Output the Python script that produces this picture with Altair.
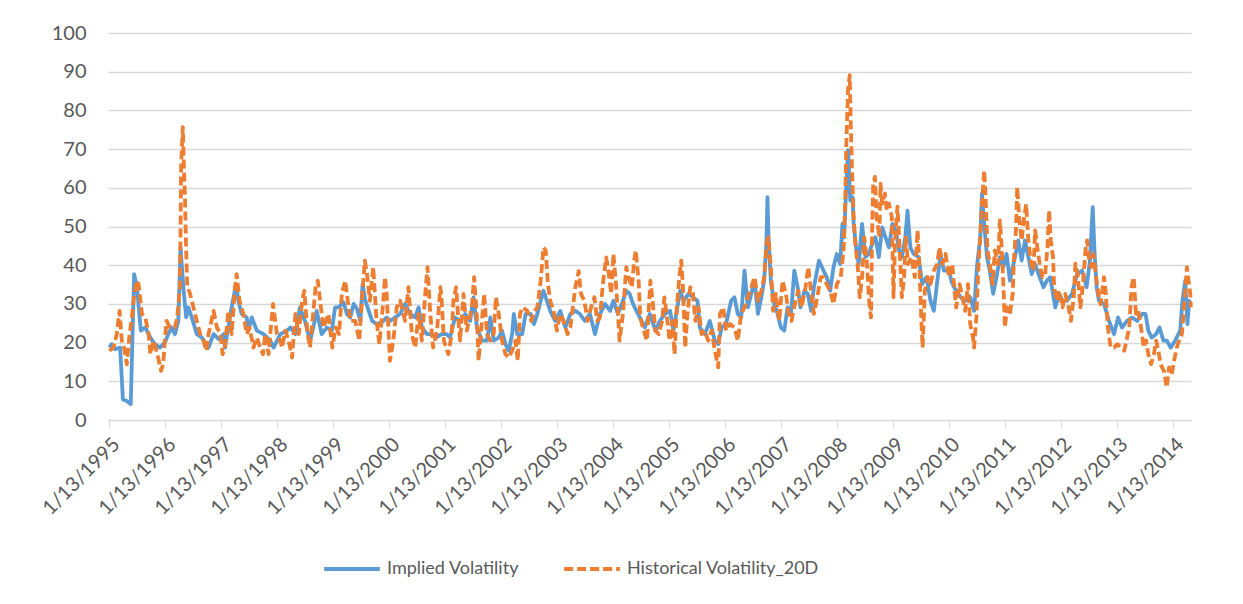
import altair as alt
import pandas as pd

# Decimal-year positions and values
IV_YEAR = [1995.04, 1995.08, 1995.14, 1995.23, 1995.28, 1995.35, 1995.42, 1995.48, 1995.53, 1995.60, 1995.68, 1995.77, 1995.85, 1995.94,
           1996.03, 1996.09, 1996.15, 1996.21, 1996.27, 1996.31, 1996.36, 1996.41, 1996.45, 1996.51, 1996.60, 1996.69, 1996.81, 1996.90, 1996.99,
           1997.08, 1997.10, 1997.16, 1997.22, 1997.30, 1997.34, 1997.40, 1997.49, 1997.52, 1997.58, 1997.67, 1997.79, 1997.91, 1997.97, 1998.09,
           1998.21, 1998.27, 1998.36, 1998.44, 1998.53, 1998.62, 1998.68, 1998.74, 1998.83, 1998.92, 1999.01, 1999.07, 1999.13, 1999.22,
           1999.28, 1999.34, 1999.40, 1999.46, 1999.52, 1999.56, 1999.61, 1999.67, 1999.73, 1999.81, 1999.90, 1999.99, 2000.05, 2000.14,
           2000.23, 2000.32, 2000.41, 2000.50, 2000.56, 2000.62, 2000.71, 2000.80, 2000.88, 2000.97, 2001.06, 2001.12, 2001.21,
           2001.30, 2001.39, 2001.48, 2001.54, 2001.60, 2001.69, 2001.78, 2001.84, 2001.90, 2001.99, 2002.05, 2002.11, 2002.17, 2002.23,
           2002.26, 2002.32, 2002.41, 2002.47, 2002.56, 2002.62, 2002.68, 2002.74, 2002.79, 2002.85, 2002.91, 2003.00, 2003.09, 2003.18,
           2003.27, 2003.36, 2003.44, 2003.53, 2003.62, 2003.71, 2003.80, 2003.89, 2003.98, 2004.04, 2004.12, 2004.21, 2004.27, 2004.33,
           2004.39, 2004.48, 2004.60, 2004.69, 2004.79, 2004.87, 2004.96, 2005.05, 2005.11, 2005.17, 2005.23, 2005.29, 2005.38, 2005.46,
           2005.54, 2005.58, 2005.67, 2005.76, 2005.85, 2005.91, 2005.97, 2006.05, 2006.14, 2006.20, 2006.26, 2006.32, 2006.38, 2006.44,
           2006.50, 2006.56, 2006.62, 2006.68, 2006.73, 2006.77, 2006.79, 2006.81, 2006.85, 2006.91, 2006.97, 2007.03, 2007.09, 2007.15,
           2007.21, 2007.27, 2007.33, 2007.38, 2007.45, 2007.51, 2007.57, 2007.62, 2007.71, 2007.79, 2007.85, 2007.91, 2007.97, 2008.03,
           2008.09, 2008.13, 2008.16, 2008.20, 2008.23, 2008.27, 2008.31, 2008.33, 2008.38, 2008.42, 2008.48, 2008.54, 2008.60, 2008.66,
           2008.72, 2008.78, 2008.84, 2008.90, 2008.96, 2009.02, 2009.08, 2009.14, 2009.19, 2009.25, 2009.29, 2009.34, 2009.40, 2009.49,
           2009.55, 2009.63, 2009.70, 2009.76, 2009.83, 2009.88, 2009.94, 2010.03, 2010.09, 2010.16, 2010.24, 2010.32, 2010.41, 2010.48,
           2010.53, 2010.59, 2010.62, 2010.66, 2010.71, 2010.76, 2010.82, 2010.88, 2010.94, 2011.00, 2011.06, 2011.12, 2011.21, 2011.27,
           2011.33, 2011.39, 2011.45, 2011.51, 2011.57, 2011.63, 2011.72, 2011.78, 2011.84, 2011.93, 2012.00, 2012.06, 2012.14, 2012.23,
           2012.32, 2012.41, 2012.49, 2012.55, 2012.58, 2012.60, 2012.63, 2012.67, 2012.71, 2012.80, 2012.89, 2012.98, 2013.05, 2013.12,
           2013.21, 2013.30, 2013.39, 2013.48, 2013.54, 2013.59, 2013.65, 2013.73, 2013.79, 2013.86, 2013.92, 2013.99, 2014.07, 2014.16,
           2014.20, 2014.25, 2014.29, 2014.32, 2014.35]
IV_VALUE = [18.7, 19.6, 18.3, 18.7, 5.3, 4.9, 4.1, 37.7, 34.3, 23.1, 23.9, 21.3, 19.6, 18.7,
            20.0, 22.2, 23.9, 22.2, 25.6, 44.6, 34.3, 26.5, 29.1, 26.5, 22.2, 21.3, 18.7, 22.2, 20.9,
            22.2, 18.7, 23.9, 29.1, 35.1, 30.8, 27.4, 26.5, 23.1, 26.5, 23.1, 22.2, 20.5, 18.7, 22.2,
            23.1, 23.9, 22.2, 29.1, 25.6, 20.5, 23.9, 28.2, 22.2, 23.9, 23.1, 29.1, 29.1, 30.4,
            27.4, 26.5, 30.0, 28.7, 25.6, 35.1, 30.8, 28.2, 25.6, 24.8, 25.2, 26.5, 25.6, 26.5,
            27.4, 30.0, 27.4, 26.5, 29.1, 23.9, 22.2, 22.2, 21.3, 22.2, 22.2, 21.3, 26.5,
            25.6, 27.4, 25.6, 31.7, 23.9, 20.5, 20.5, 26.5, 20.5, 21.3, 23.1, 19.6, 17.9, 22.2,
            27.4, 22.2, 22.2, 27.4, 27.4, 24.8, 27.4, 30.8, 33.4, 30.8, 28.2, 25.6, 28.2, 23.9,
            27.4, 28.2, 27.4, 25.6, 27.4, 22.2, 27.4, 30.0, 28.2, 30.8, 27.4, 30.8, 33.4, 32.6,
            30.0, 27.4, 23.9, 27.4, 23.1, 25.6, 27.4, 28.2, 23.1, 28.2, 33.4, 30.8, 32.6, 31.7,
            30.8, 23.9, 22.2, 25.6, 20.5, 19.6, 23.9, 24.8, 30.8, 31.7, 27.4, 26.5, 38.6, 29.1,
            32.6, 36.0, 27.4, 31.7, 36.0, 45.5, 57.6, 46.4, 36.0, 30.0, 27.4, 23.9, 23.1, 29.1,
            27.4, 38.6, 34.3, 29.1, 33.4, 32.6, 28.2, 34.3, 41.2, 38.6, 36.9, 33.4, 39.5, 42.9,
            40.3, 50.7, 47.2, 61.1, 69.7, 56.7, 57.6, 50.7, 43.8, 40.3, 50.7, 42.1, 42.9, 45.5,
            47.2, 42.1, 49.8, 47.2, 44.6, 50.7, 49.0, 43.8, 42.1, 47.2, 54.1, 44.6, 42.9, 42.1,
            35.1, 36.9, 30.8, 28.2, 36.9, 42.9, 38.6, 38.6, 35.1, 33.4, 31.7, 30.8, 31.7, 28.2,
            39.5, 47.2, 58.5, 50.7, 42.1, 38.6, 32.6, 36.9, 42.1, 39.5, 42.9, 36.0, 42.1, 46.4,
            41.2, 46.4, 42.1, 37.7, 40.3, 37.7, 34.3, 36.0, 36.9, 29.1, 32.6, 30.8, 30.8, 32.6,
            37.7, 38.6, 34.3, 41.2, 49.8, 55.0, 43.8, 34.3, 30.8, 30.0, 25.6, 22.2, 26.5, 23.9,
            25.6, 26.5, 25.6, 27.4, 27.4, 23.1, 21.3, 22.2, 23.9, 20.5, 20.5, 18.7, 20.5, 23.1,
            30.8, 36.0, 24.8, 30.8, 30.0]

HV_YEAR = [1995.04, 1995.11, 1995.17, 1995.22, 1995.26, 1995.30, 1995.35, 1995.40, 1995.44, 1995.47, 1995.52, 1995.56, 1995.62, 1995.68,
           1995.74, 1995.77, 1995.83, 1995.91, 1995.96, 1996.00, 1996.03, 1996.06, 1996.12, 1996.21, 1996.25, 1996.30, 1996.32, 1996.35,
           1996.37, 1996.39, 1996.41, 1996.43, 1996.48, 1996.54, 1996.60, 1996.66, 1996.72, 1996.77, 1996.81, 1996.90, 1996.96, 1997.02,
           1997.06, 1997.10, 1997.16, 1997.22, 1997.28, 1997.31, 1997.36, 1997.43, 1997.49, 1997.54, 1997.61, 1997.67, 1997.73, 1997.78,
           1997.82, 1997.88, 1997.92, 1997.96, 1998.03, 1998.09, 1998.12, 1998.18, 1998.24, 1998.30, 1998.36, 1998.42, 1998.48, 1998.52,
           1998.57, 1998.62, 1998.67, 1998.72, 1998.76, 1998.80, 1998.86, 1998.95, 1999.02, 1999.08, 1999.14, 1999.19, 1999.25, 1999.28,
           1999.34, 1999.43, 1999.50, 1999.54, 1999.60, 1999.64, 1999.69, 1999.75, 1999.81, 1999.86, 1999.92, 1999.96, 1999.99, 2000.05,
           2000.11, 2000.17, 2000.23, 2000.32, 2000.38, 2000.44, 2000.50, 2000.56, 2000.62, 2000.68, 2000.72, 2000.77, 2000.82, 2000.89,
           2000.95, 2000.97, 2001.01, 2001.09, 2001.15, 2001.18, 2001.23, 2001.27, 2001.30, 2001.36, 2001.42, 2001.51, 2001.55, 2001.60,
           2001.63, 2001.69, 2001.73, 2001.78, 2001.84, 2001.90, 2001.94, 2001.99, 2002.05, 2002.11, 2002.17, 2002.23, 2002.29, 2002.33,
           2002.37, 2002.42, 2002.50, 2002.57, 2002.63, 2002.68, 2002.74, 2002.79, 2002.83, 2002.87, 2002.91, 2002.97, 2003.03, 2003.09,
           2003.15, 2003.22, 2003.27, 2003.36, 2003.42, 2003.46, 2003.52, 2003.58, 2003.64, 2003.70, 2003.75, 2003.80, 2003.85, 2003.91,
           2003.95, 2004.00, 2004.04, 2004.09, 2004.15, 2004.21, 2004.27, 2004.31, 2004.37, 2004.41, 2004.44, 2004.49, 2004.52, 2004.58,
           2004.64, 2004.70, 2004.74, 2004.79, 2004.85, 2004.91, 2004.95, 2004.99, 2005.04, 2005.09, 2005.13, 2005.17, 2005.22, 2005.25,
           2005.28, 2005.32, 2005.36, 2005.41, 2005.46, 2005.50, 2005.56, 2005.61, 2005.67, 2005.73, 2005.79, 2005.85, 2005.91, 2005.94,
           2006.00, 2006.05, 2006.12, 2006.20, 2006.26, 2006.32, 2006.38, 2006.44, 2006.50, 2006.56, 2006.62, 2006.68, 2006.73, 2006.78,
           2006.81, 2006.85, 2006.89, 2006.94, 2007.00, 2007.06, 2007.12, 2007.17, 2007.22, 2007.28, 2007.34, 2007.40, 2007.47, 2007.52,
           2007.56, 2007.62, 2007.68, 2007.74, 2007.79, 2007.85, 2007.91, 2007.97, 2008.03, 2008.10, 2008.15, 2008.18, 2008.20, 2008.23,
           2008.26, 2008.28, 2008.30, 2008.33, 2008.36, 2008.40, 2008.44, 2008.48, 2008.52, 2008.56, 2008.61, 2008.64, 2008.66, 2008.68,
           2008.71, 2008.74, 2008.79, 2008.81, 2008.84, 2008.89, 2008.92, 2008.96, 2009.01, 2009.04, 2009.07, 2009.11, 2009.14, 2009.19,
           2009.23, 2009.26, 2009.30, 2009.36, 2009.42, 2009.47, 2009.50, 2009.54, 2009.56, 2009.60, 2009.65, 2009.70, 2009.76, 2009.82,
           2009.86, 2009.91, 2009.97, 2010.03, 2010.09, 2010.13, 2010.16, 2010.22, 2010.27, 2010.32, 2010.37, 2010.41, 2010.46, 2010.48,
           2010.52, 2010.56, 2010.59, 2010.62, 2010.66, 2010.68, 2010.72, 2010.76, 2010.81, 2010.85, 2010.91, 2010.94, 2010.97, 2011.01,
           2011.03, 2011.07, 2011.12, 2011.17, 2011.19, 2011.23, 2011.25, 2011.29, 2011.33, 2011.36, 2011.41, 2011.45, 2011.49, 2011.54,
           2011.57, 2011.61, 2011.66, 2011.70, 2011.75, 2011.79, 2011.82, 2011.85, 2011.89, 2011.91, 2011.96, 2012.00, 2012.06, 2012.11,
           2012.17, 2012.21, 2012.26, 2012.29, 2012.33, 2012.38, 2012.42, 2012.47, 2012.50, 2012.53, 2012.57, 2012.61, 2012.66, 2012.70,
           2012.74, 2012.80, 2012.83, 2012.87, 2012.92, 2012.98, 2013.04, 2013.10, 2013.16, 2013.20, 2013.25, 2013.29, 2013.33, 2013.37,
           2013.41, 2013.46, 2013.51, 2013.55, 2013.59, 2013.64, 2013.69, 2013.73, 2013.77, 2013.81, 2013.87, 2013.92, 2013.96, 2014.01,
           2014.05, 2014.10, 2014.14, 2014.19, 2014.22, 2014.25, 2014.28, 2014.31, 2014.34, 2014.35]
HV_VALUE = [17.9, 18.7, 22.2, 28.2, 20.5, 18.7, 14.4, 22.2, 26.5, 30.8, 36.0, 35.1, 27.4, 26.5,
            22.2, 17.0, 20.5, 16.1, 12.7, 14.4, 20.5, 25.6, 23.9, 23.9, 26.5, 34.3, 65.4, 75.7,
            65.4, 56.7, 43.8, 34.3, 32.6, 29.1, 25.6, 22.2, 20.5, 17.9, 22.2, 28.2, 23.9, 22.2,
            17.0, 18.7, 28.2, 22.2, 34.3, 37.7, 30.8, 27.4, 22.2, 23.9, 18.7, 21.3, 18.7, 17.0,
            22.2, 17.0, 23.9, 30.0, 22.2, 20.5, 18.7, 23.1, 20.5, 16.1, 27.4, 22.2, 30.8, 33.4,
            23.1, 18.7, 26.5, 34.3, 36.0, 30.8, 23.9, 27.4, 18.7, 23.9, 22.2, 32.6, 36.0, 32.6,
            25.6, 25.6, 20.5, 29.1, 41.2, 37.7, 30.8, 39.5, 25.6, 19.6, 29.1, 36.9, 32.6, 15.3,
            20.5, 29.1, 30.8, 25.6, 34.3, 22.2, 18.7, 27.4, 20.5, 32.6, 39.5, 27.4, 18.7, 23.1,
            34.3, 31.7, 20.5, 17.0, 22.2, 30.8, 34.3, 25.6, 20.5, 32.6, 23.1, 29.1, 36.9, 26.5,
            15.3, 25.6, 32.6, 22.2, 20.5, 22.2, 31.7, 27.4, 20.5, 17.0, 16.1, 17.9, 20.5, 15.3,
            27.4, 29.1, 28.2, 25.6, 28.2, 29.1, 36.0, 44.6, 43.8, 35.1, 30.8, 28.2, 23.1, 27.4,
            25.6, 22.2, 23.9, 34.3, 38.5, 32.6, 30.8, 25.6, 29.1, 31.7, 25.6, 26.5, 35.1, 42.0,
            38.5, 32.6, 42.9, 34.3, 20.5, 27.4, 39.5, 36.9, 34.3, 41.2, 43.8, 36.0, 26.5, 23.1,
            20.5, 36.0, 30.8, 23.1, 22.2, 25.6, 31.7, 27.4, 20.5, 25.6, 17.0, 29.1, 37.7, 41.2,
            34.3, 18.7, 27.4, 34.3, 32.6, 25.6, 29.1, 22.2, 23.1, 20.5, 23.1, 17.9, 13.6, 27.4,
            29.1, 23.1, 24.8, 23.9, 20.5, 27.4, 29.1, 31.7, 34.3, 36.9, 30.8, 33.4, 36.9, 46.4,
            47.2, 39.5, 28.2, 32.6, 25.6, 36.0, 32.6, 27.4, 25.6, 30.0, 33.4, 29.1, 34.3, 39.5,
            34.3, 27.4, 31.7, 36.9, 36.9, 35.1, 33.4, 30.0, 35.1, 36.9, 43.8, 56.7, 71.4, 85.2,
            89.1, 75.7, 65.4, 52.4, 45.5, 40.3, 31.7, 36.9, 47.2, 42.1, 30.0, 26.5, 49.0, 61.1,
            62.8, 52.4, 47.2, 61.1, 55.9, 58.5, 54.1, 55.9, 52.4, 31.7, 47.2, 55.1, 47.2, 31.7,
            36.9, 47.2, 40.3, 42.1, 36.9, 49.0, 40.3, 24.8, 18.7, 33.4, 36.9, 35.1, 38.6, 40.3,
            44.6, 40.3, 42.9, 36.9, 40.3, 33.4, 29.1, 35.1, 31.7, 28.2, 35.1, 24.8, 21.3, 18.7,
            26.5, 40.3, 47.2, 55.9, 64.5, 59.3, 43.8, 40.3, 35.1, 43.8, 40.3, 51.6, 45.5, 32.6,
            23.9, 29.1, 27.4, 32.6, 41.2, 49.8, 60.2, 51.6, 46.4, 50.7, 55.8, 46.4, 41.2, 38.5,
            49.0, 44.6, 39.5, 36.9, 37.7, 44.6, 54.2, 46.4, 42.1, 34.3, 30.8, 33.4, 29.1, 32.6,
            29.1, 25.6, 31.7, 40.4, 37.7, 29.1, 34.3, 43.8, 46.4, 42.1, 39.5, 42.9, 36.9, 32.6,
            29.9, 36.9, 33.4, 23.9, 18.7, 18.7, 19.6, 18.7, 17.9, 20.5, 23.9, 34.3, 36.9, 27.4,
            28.2, 23.9, 18.7, 20.5, 17.0, 14.4, 17.0, 20.5, 17.9, 14.4, 12.6, 8.4, 13.6, 11.8,
            15.3, 18.7, 20.5, 22.2, 27.4, 33.4, 39.5, 36.0, 32.6, 29.1]

SERIES = ["Implied Volatility", "Historical Volatility_20D"]
TICK_YEARS = list(range(1995, 2015))
Y_TICKS = list(range(0, 101, 10))


def to_date(y):
    base = pd.Timestamp(year=int(y), month=1, day=1)
    return base + pd.Timedelta(days=(y - int(y)) * 365.25)


rows = []
for yr, v in zip(IV_YEAR, IV_VALUE):
    rows.append({"date": to_date(yr), "value": v, "series": SERIES[0]})
for yr, v in zip(HV_YEAR, HV_VALUE):
    rows.append({"date": to_date(yr), "value": v, "series": SERIES[1]})
df = pd.DataFrame(rows)

FONT = "Lato"
TEXT = "#595959"
GRID = "#D9D9D9"

legend = alt.Legend(
    title=None, orient="none", legendX=214, legendY=506, direction="horizontal",
    symbolType="stroke", symbolSize=3100, symbolStrokeWidth=3.8,
    labelFont=FONT, labelFontSize=18, labelColor=TEXT, labelOffset=5,
    columnPadding=36, labelLimit=400,
)

chart = alt.Chart(df).mark_line(strokeWidth=3.8, strokeJoin="round").encode(
    x=alt.X(
        "date:T",
        scale=alt.Scale(domain=[alt.DateTime(year=1995, month=1, date=6),
                                alt.DateTime(year=2014, month=5, date=10)]),
        axis=alt.Axis(
            values=[alt.DateTime(year=y, month=1, date=13) for y in TICK_YEARS],
            format="%-m/%-d/%Y", labelAngle=315, grid=False,
            domainColor=GRID, domainWidth=1, tickColor=GRID, tickSize=7,
            labelFont=FONT, labelFontSize=20, labelColor=TEXT, labelPadding=7,
            labelOverlap=False, labelBound=False, labelFlush=False, title=None,
        ),
    ),
    y=alt.Y(
        "value:Q",
        scale=alt.Scale(domain=[0, 100], nice=False),
        axis=alt.Axis(
            values=Y_TICKS, grid=True, gridColor=GRID, gridWidth=1.3, domain=False, ticks=False,
            labelFont=FONT, labelFontSize=20, labelColor=TEXT, labelPadding=22, title=None,
        ),
    ),
    color=alt.Color("series:N", scale=alt.Scale(domain=SERIES, range=["#5B9BD5", "#ED7D31"]), legend=legend),
    strokeDash=alt.StrokeDash("series:N", scale=alt.Scale(domain=SERIES, range=[[1, 0], [9, 4]]), legend=legend),
).properties(
    width=1083, height=387,
    autosize=alt.AutoSizeParams(type="none"),
    padding={"left": 100, "top": 25, "right": 43, "bottom": 170},
).configure_view(stroke=None)

chart.save("out.html", embed_options={"renderer": "svg", "actions": False})
